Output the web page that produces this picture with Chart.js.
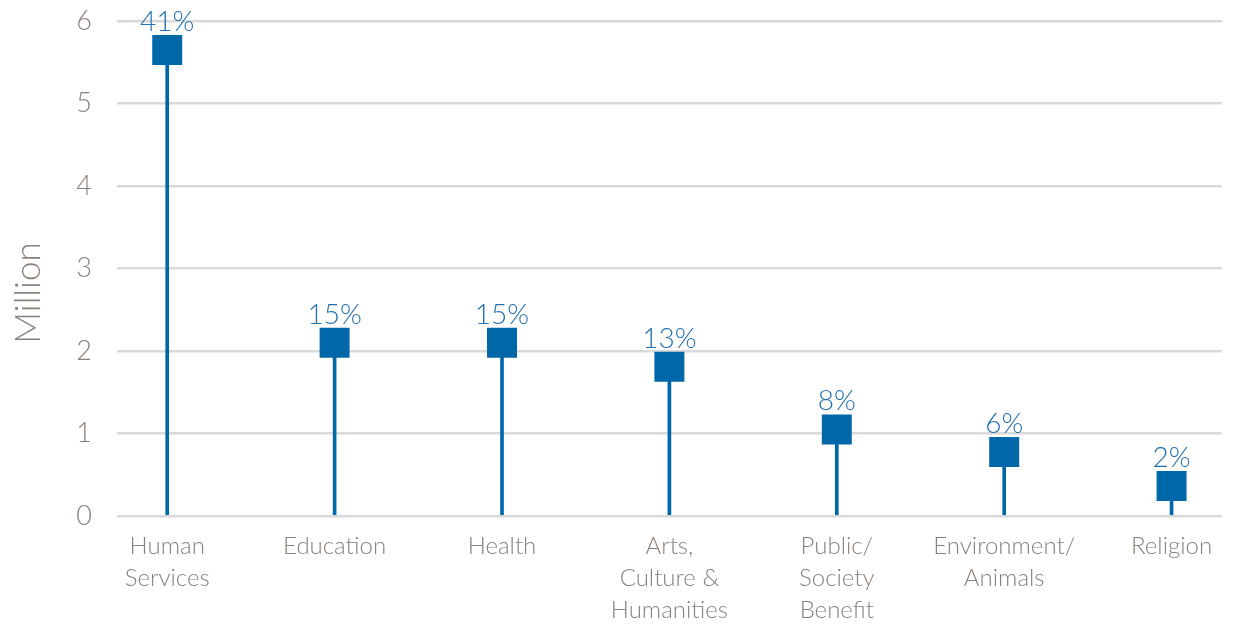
<!DOCTYPE html>
<html>
<head>
<meta charset="utf-8">
<script src="https://cdn.jsdelivr.net/npm/chart.js@4"></script>
<style>
html,body{margin:0;padding:0;background:#fff;}
#wrap{width:1243px;height:627px;position:relative;}
</style>
</head>
<body>
<div id="wrap"><canvas id="c" width="1243" height="627"></canvas></div>
<script>
const categories = [
  ["Human", "Services"],
  ["Education"],
  ["Health"],
  ["Arts,", "Culture &", "Humanities"],
  ["Public/", "Society", "Benefit"],
  ["Environment/", "Animals"],
  ["Religion"]
];
const values = [5.65, 2.10, 2.10, 1.81, 1.05, 0.775, 0.365];
const percentLabels = ["41%", "15%", "15%", "13%", "8%", "6%", "2%"];
const yTicks = [0, 1, 2, 3, 4, 5, 6];
const yTitle = "Million";

const BLUE = '#0068a9';
const GRAY = '#8a817b';
const FONT = "Lato, 'Open Sans', sans-serif";

const points = values.map((v, i) => ({x: i, y: v}));

const labelPlugin = {
  id: 'pctLabels',
  afterDatasetsDraw(chart) {
    const ctx = chart.ctx;
    const meta = chart.getDatasetMeta(1);
    ctx.save();
    ctx.font = "300 28px " + FONT;
    ctx.fillStyle = '#2470ae';
    ctx.textAlign = 'center';
    ctx.textBaseline = 'alphabetic';
    meta.data.forEach((pt, i) => {
      ctx.fillText(percentLabels[i], pt.x, pt.y - 19);
    });
    ctx.restore();
    // y title
    ctx.save();
    ctx.font = "300 35px " + FONT;
    ctx.fillStyle = GRAY;
    ctx.textAlign = 'center';
    ctx.textBaseline = 'middle';
    ctx.translate(29, 293);
    ctx.rotate(-Math.PI / 2);
    ctx.fillText(yTitle, 0, 0);
    ctx.restore();
  }
};

new Chart(document.getElementById('c'), {
  data: {
    datasets: [
      {
        type: 'bar',
        data: points,
        backgroundColor: BLUE,
        barThickness: 3,
        borderWidth: 0,
        order: 2
      },
      {
        type: 'scatter',
        data: points,
        pointStyle: 'rect',
        pointRadius: 21.2,
        pointHoverRadius: 21.2,
        backgroundColor: BLUE,
        borderWidth: 0,
        order: 1
      }
    ]
  },
  options: {
    responsive: false,
    animation: false,
    events: [],
    layout: {padding: {left: 0, right: 21, top: 19, bottom: 0}},
    plugins: {legend: {display: false}, tooltip: {enabled: false}},
    scales: {
      x: {
        type: 'linear',
        offset: false,
        min: -0.3,
        max: 6.3,
        afterBuildTicks(scale) {
          scale.ticks = categories.map((c, i) => ({value: i}));
        },
        afterFit(scale) {
          scale.height = 111;
          scale.paddingLeft = 0; scale.paddingRight = 0;
        },
        grid: {display: false},
        border: {display: false},
        ticks: {
          autoSkip: false,
          maxRotation: 0,
          padding: 6,
          color: GRAY,
          font: {family: FONT, size: 24, weight: 300, lineHeight: 1.33},
          callback: (v) => categories[v]
        }
      },
      y: {
        min: 0,
        max: 6,
        afterBuildTicks(scale) {
          scale.ticks = yTicks.map(v => ({value: v}));
        },
        afterFit(scale) {
          scale.width = 117;
          scale.paddingTop = 0; scale.paddingBottom = 0;
        },
        grid: {color: '#d9d9d9', lineWidth: 2.5, drawTicks: false},
        border: {display: false},
        ticks: {
          padding: 25,
          color: GRAY,
          font: {family: FONT, size: 27, weight: 300}
        }
      }
    }
  },
  plugins: [labelPlugin]
});
</script>
</body>
</html>
